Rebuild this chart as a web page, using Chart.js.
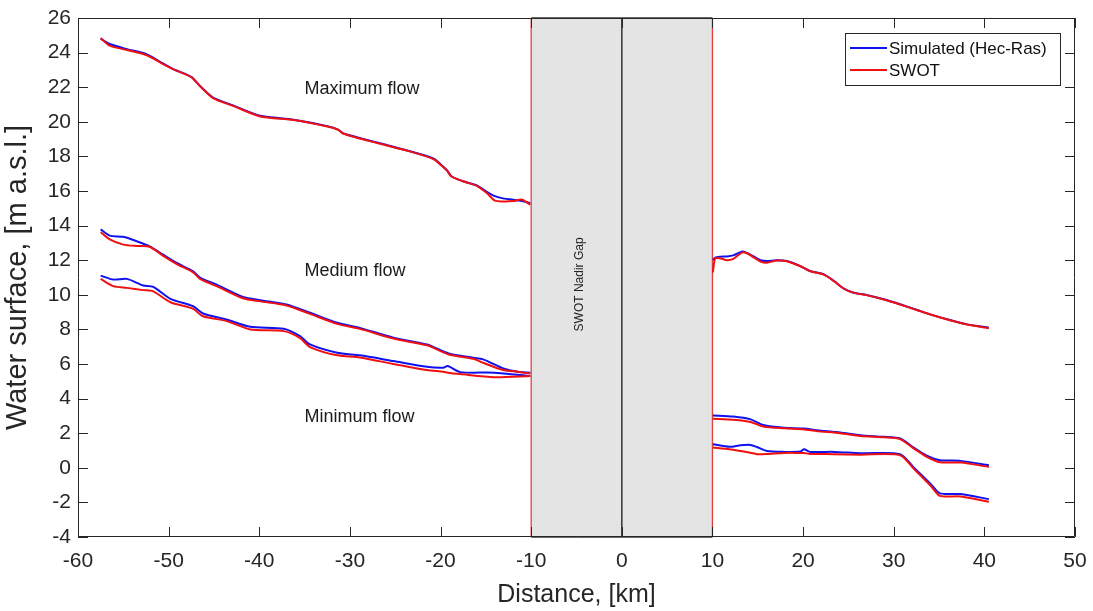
<!DOCTYPE html>
<html>
<head>
<meta charset="utf-8">
<script src="https://cdn.jsdelivr.net/npm/chart.js@4.4.1/dist/chart.umd.min.js"></script>
<style>
  html, body { margin: 0; background: #fff; }
  #wrap { width: 1093px; height: 611px; }
</style>
</head>
<body>
<div id="wrap"><canvas id="profile"></canvas></div>
<script>
// Water surface profiles along the reach (distance in km, level in m a.s.l.)
// Upstream side of the nadir gap
const maxLeftKm   = [-57.5, -56.5, -54.6, -52.4, -50.9, -49.5, -47.5, -46.5, -45.1, -42.9, -39.9, -36.2, -32.5, -31.3, -30.7, -27.0, -23.4, -20.8, -20.0, -19.3, -18.8, -17.5, -16.0, -14.9, -14.0, -13.0, -12.0, -11.0, -10.1];
const maxLeftSim  = [24.8, 24.5, 24.2, 23.9, 23.45, 23.05, 22.6, 22.05, 21.4, 20.95, 20.35, 20.12, 19.75, 19.55, 19.32, 18.8, 18.3, 17.88, 17.55, 17.2, 16.85, 16.56, 16.32, 15.95, 15.7, 15.56, 15.5, 15.42, 15.3];
const maxLeftSwot = [24.85, 24.4, 24.15, 23.85, 23.42, 23.04, 22.58, 22.04, 21.37, 20.92, 20.31, 20.11, 19.73, 19.54, 19.31, 18.77, 18.29, 17.85, 17.52, 17.19, 16.84, 16.56, 16.3, 15.88, 15.44, 15.4, 15.42, 15.5, 15.21];

const medLeftKm   = [-57.5, -56.5, -55.0, -53.5, -52.1, -50.6, -49.1, -47.3, -46.5, -44.7, -41.8, -39.9, -37.0, -34.4, -31.4, -28.9, -25.2, -21.5, -19.1, -16.4, -15.3, -13.1, -11.5, -10.1];
const medLeftSim  = [13.78, 13.42, 13.35, 13.09, 12.8, 12.32, 11.84, 11.36, 10.98, 10.59, 9.88, 9.69, 9.44, 8.96, 8.38, 8.09, 7.52, 7.13, 6.61, 6.36, 6.27, 5.75, 5.55, 5.5];
const medLeftSwot = [13.62, 13.2, 12.9, 12.82, 12.78, 12.25, 11.78, 11.3, 10.9, 10.5, 9.8, 9.62, 9.38, 8.9, 8.32, 8.03, 7.47, 7.08, 6.55, 6.3, 6.07, 5.65, 5.55, 5.45];

const minLeftKm   = [-57.5, -56.1, -54.6, -52.8, -51.7, -49.8, -47.3, -46.2, -43.6, -41.0, -37.3, -35.5, -34.4, -31.4, -28.9, -25.2, -21.5, -19.7, -19.2, -17.8, -14.1, -10.1];
const minLeftSim  = [11.11, 10.88, 10.92, 10.54, 10.46, 9.77, 9.34, 8.92, 8.57, 8.15, 8.04, 7.61, 7.13, 6.65, 6.5, 6.17, 5.84, 5.79, 5.88, 5.53, 5.5, 5.3];
const minLeftSwot = [10.92, 10.5, 10.4, 10.27, 10.2, 9.57, 9.19, 8.76, 8.48, 8.0, 7.9, 7.5, 6.98, 6.5, 6.38, 6.0, 5.65, 5.55, 5.5, 5.42, 5.24, 5.3];

// Downstream side of the nadir gap
const maxRightKm   = [10.05, 10.3, 10.9, 11.6, 12.3, 13.3, 13.8, 14.6, 15.3, 16.0, 17.1, 18.2, 19.7, 20.8, 22.3, 23.4, 24.5, 25.6, 27.0, 28.9, 30.7, 32.6, 34.4, 36.2, 38.1, 40.5];
const maxRightSim  = [12.0, 12.15, 12.2, 12.22, 12.28, 12.5, 12.42, 12.2, 12.0, 11.95, 12.0, 11.95, 11.66, 11.37, 11.18, 10.8, 10.36, 10.12, 9.99, 9.74, 9.45, 9.12, 8.81, 8.54, 8.29, 8.1];
const maxRightSwot = [11.3, 12.1, 12.1, 12.0, 12.08, 12.45, 12.4, 12.15, 11.92, 11.85, 11.98, 11.94, 11.65, 11.36, 11.17, 10.79, 10.35, 10.11, 9.98, 9.73, 9.44, 9.11, 8.8, 8.53, 8.28, 8.07];

const medRightKm   = [10.05, 12.3, 14.2, 15.6, 17.9, 20.1, 21.5, 24.1, 26.3, 28.9, 30.7, 32.2, 33.7, 35.1, 37.4, 40.5];
const medRightSim  = [3.03, 2.96, 2.8, 2.48, 2.32, 2.27, 2.17, 2.04, 1.88, 1.79, 1.69, 1.17, 0.69, 0.44, 0.4, 0.15];
const medRightSwot = [2.84, 2.78, 2.65, 2.38, 2.28, 2.22, 2.12, 2.0, 1.84, 1.76, 1.66, 1.12, 0.62, 0.32, 0.3, 0.05];

const minRightKm   = [10.05, 11.9, 13.1, 14.2, 14.9, 16.0, 17.9, 19.7, 20.1, 20.8, 23.4, 26.3, 30.7, 32.2, 34.1, 35.1, 37.4, 40.5];
const minRightSim  = [1.36, 1.21, 1.3, 1.32, 1.2, 0.97, 0.92, 0.94, 1.07, 0.92, 0.92, 0.84, 0.79, 0.02, -0.95, -1.48, -1.52, -1.81];
const minRightSwot = [1.17, 1.07, 0.97, 0.87, 0.79, 0.8, 0.86, 0.86, 0.86, 0.8, 0.79, 0.76, 0.73, -0.05, -1.05, -1.62, -1.66, -1.97];

// Nadir gap limits (km) and the flow labels
const gapFrom = -10;
const gapTo = 10;
const flowLabels = [
  { text: 'Maximum flow', km: -35, level: 21.9 },
  { text: 'Medium flow',  km: -35, level: 11.4 },
  { text: 'Minimum flow', km: -35, level: 2.95 }
];
const seriesNames = ['Simulated (Hec-Ras)', 'SWOT'];
const seriesColors = ['#1010f0', '#f01010'];

const FONT = "'Liberation Sans', Arial, Helvetica, sans-serif";
const AXIS = '#262626';

function pts(xs, ys) {
  return xs.map((x, i) => ({ x: x, y: ys[i] }));
}

function line(name, xs, ys, kind) {
  return {
    label: name,
    data: pts(xs, ys),
    borderColor: seriesColors[kind],
    borderWidth: 2,
    showLine: true,
    pointRadius: 0,
    tension: 0.25,
    fill: false,
    order: kind === 0 ? 2 : 1   // SWOT on top
  };
}

const datasets = [
  line(seriesNames[0], maxLeftKm, maxLeftSim, 0),
  line(seriesNames[0], medLeftKm, medLeftSim, 0),
  line(seriesNames[0], minLeftKm, minLeftSim, 0),
  line(seriesNames[0], maxRightKm, maxRightSim, 0),
  line(seriesNames[0], medRightKm, medRightSim, 0),
  line(seriesNames[0], minRightKm, minRightSim, 0),
  line(seriesNames[1], maxLeftKm, maxLeftSwot, 1),
  line(seriesNames[1], medLeftKm, medLeftSwot, 1),
  line(seriesNames[1], minLeftKm, minLeftSwot, 1),
  line(seriesNames[1], maxRightKm, maxRightSwot, 1),
  line(seriesNames[1], medRightKm, medRightSwot, 1),
  line(seriesNames[1], minRightKm, minRightSwot, 1)
];

// grey gap band, box with inward ticks, labels and legend (MATLAB look)
const matlabFrame = {
  id: 'matlabFrame',
  beforeDatasetsDraw(chart) {
    const { ctx, chartArea: a, scales: { x } } = chart;
    const x0 = x.getPixelForValue(gapFrom);
    const x1 = x.getPixelForValue(gapTo);
    const xm = x.getPixelForValue(0);
    ctx.save();
    ctx.fillStyle = '#e4e4e4';
    ctx.fillRect(x0, a.top, x1 - x0, a.bottom - a.top);
    ctx.strokeStyle = '#6a6a6a';
    ctx.lineWidth = 2;
    ctx.beginPath();
    ctx.moveTo(x0, a.top); ctx.lineTo(x1, a.top);
    ctx.moveTo(x0, a.bottom); ctx.lineTo(x1, a.bottom);
    ctx.stroke();
    ctx.strokeStyle = '#e0403a';
    ctx.lineWidth = 1.3;
    ctx.beginPath();
    ctx.moveTo(x0, a.top); ctx.lineTo(x0, a.bottom);
    ctx.moveTo(x1, a.top); ctx.lineTo(x1, a.bottom);
    ctx.stroke();
    ctx.strokeStyle = '#333';
    ctx.lineWidth = 1.5;
    ctx.beginPath();
    ctx.moveTo(xm, a.top); ctx.lineTo(xm, a.bottom);
    ctx.stroke();

    // rotated gap caption
    ctx.fillStyle = '#222';
    ctx.font = '12px ' + FONT;
    ctx.textAlign = 'center';
    ctx.textBaseline = 'middle';
    ctx.translate((x0 + xm) / 2 + 3, chart.scales.y.getPixelForValue(10.6));
    ctx.rotate(-Math.PI / 2);
    ctx.fillText('SWOT Nadir Gap', 0, 0);
    ctx.restore();
  },
  afterDatasetsDraw(chart) {
    const { ctx, chartArea: a, scales: { x, y } } = chart;
    const tick = 10;
    ctx.save();
    ctx.strokeStyle = AXIS;
    ctx.lineWidth = 1;
    ctx.beginPath();
    // box
    ctx.moveTo(a.left + 0.5, a.top + 0.5);
    ctx.lineTo(a.right - 0.5, a.top + 0.5);
    ctx.lineTo(a.right - 0.5, a.bottom - 0.5);
    ctx.lineTo(a.left + 0.5, a.bottom - 0.5);
    ctx.closePath();
    // inward ticks on all four sides
    x.ticks.forEach(t => {
      const px = Math.round(x.getPixelForValue(t.value)) + 0.5;
      ctx.moveTo(px, a.bottom); ctx.lineTo(px, a.bottom - tick);
      ctx.moveTo(px, a.top); ctx.lineTo(px, a.top + tick);
    });
    y.ticks.forEach(t => {
      const py = Math.round(y.getPixelForValue(t.value)) + 0.5;
      ctx.moveTo(a.left, py); ctx.lineTo(a.left + tick, py);
      ctx.moveTo(a.right, py); ctx.lineTo(a.right - tick, py);
    });
    ctx.stroke();

    // flow labels
    ctx.fillStyle = '#1a1a1a';
    ctx.font = '18px ' + FONT;
    ctx.textAlign = 'left';
    ctx.textBaseline = 'middle';
    flowLabels.forEach(l => {
      ctx.fillText(l.text, x.getPixelForValue(l.km), y.getPixelForValue(l.level));
    });

    // legend box in the upper right corner
    const lw = 215, lh = 52;
    const lx = a.right - 15 - lw, ly = a.top + 15;
    ctx.fillStyle = '#fff';
    ctx.fillRect(lx, ly, lw, lh);
    ctx.strokeStyle = AXIS;
    ctx.lineWidth = 1;
    ctx.strokeRect(lx + 0.5, ly + 0.5, lw, lh);
    ctx.font = '17px ' + FONT;
    ctx.fillStyle = '#111';
    seriesNames.forEach((name, i) => {
      const cy = ly + 15 + i * 22;
      ctx.strokeStyle = seriesColors[i];
      ctx.lineWidth = 2;
      ctx.beginPath();
      ctx.moveTo(lx + 5, cy); ctx.lineTo(lx + 42, cy);
      ctx.stroke();
      ctx.fillText(name, lx + 44, cy + 1);
    });
    ctx.restore();
  }
};

new Chart(document.getElementById('profile'), {
  type: 'scatter',
  data: { datasets: datasets },
  options: {
    responsive: true,
    maintainAspectRatio: false,
    animation: false,
    layout: { padding: { left: 0, right: 18, top: 18, bottom: 0 } },
    plugins: {
      legend: { display: false },
      tooltip: { enabled: false }
    },
    scales: {
      x: {
        type: 'linear',
        min: -60,
        max: 50,
        afterFit: (s) => {
          s.height = 74;
          s.paddingLeft = 0;
          s.paddingRight = 0;
        },
        grid: { display: false, drawTicks: false },
        border: { display: false },
        ticks: {
          stepSize: 10,
          padding: 12,
          maxRotation: 0,
          color: AXIS,
          font: { family: FONT, size: 21 }
        },
        title: {
          display: true,
          text: 'Distance, [km]',
          color: AXIS,
          font: { family: FONT, size: 25 },
          padding: { top: 0, bottom: 1 }
        }
      },
      y: {
        type: 'linear',
        min: -4,
        max: 26,
        afterFit: (s) => {
          s.width = 78;
          s.paddingTop = 0;
          s.paddingBottom = 0;
        },
        grid: { display: false, drawTicks: false },
        border: { display: false },
        ticks: {
          stepSize: 2,
          padding: 7,
          color: AXIS,
          font: { family: FONT, size: 21 }
        },
        title: {
          display: true,
          text: 'Water surface, [m a.s.l.]',
          color: AXIS,
          font: { family: FONT, size: 29 },
          padding: { top: 1, bottom: 0 }
        }
      }
    }
  },
  plugins: [matlabFrame]
});
</script>
</body>
</html>
